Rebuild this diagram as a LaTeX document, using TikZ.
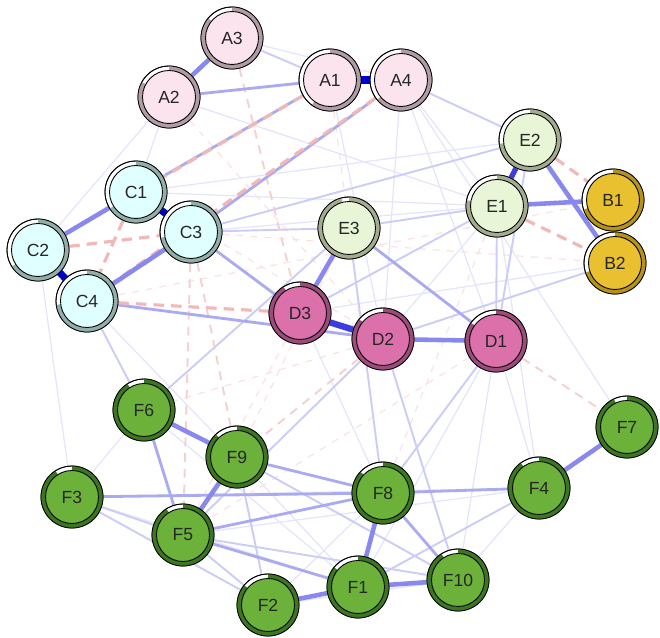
\documentclass[tikz,border=0pt]{standalone}
\usepackage{fontspec}
\setmainfont{Liberation Sans}
\usepackage{tikz}
\pgfdeclarelayer{bg}
\pgfsetlayers{bg,main}

\definecolor{afill}{RGB}{252,228,238}
\definecolor{aring}{RGB}{176,156,164}
\definecolor{cfill}{RGB}{224,255,255}
\definecolor{cring}{RGB}{146,174,168}
\definecolor{efill}{RGB}{232,245,214}
\definecolor{ering}{RGB}{164,172,144}
\definecolor{bfill}{RGB}{232,192,48}
\definecolor{bring}{RGB}{180,146,28}
\definecolor{dfill}{RGB}{220,112,170}
\definecolor{dring}{RGB}{156,76,122}
\definecolor{ffill}{RGB}{108,178,58}
\definecolor{fring}{RGB}{60,118,32}
\definecolor{posdark}{RGB}{0,0,205}
\definecolor{posdeep}{RGB}{60,60,225}
\definecolor{posstrong}{RGB}{136,136,238}
\definecolor{posmid}{RGB}{170,170,242}
\definecolor{posweak}{RGB}{204,204,248}
\definecolor{posfaint}{RGB}{228,228,252}
\definecolor{negmid}{RGB}{242,184,184}
\definecolor{negweak}{RGB}{246,208,208}
\definecolor{negfaint}{RGB}{251,226,226}

\tikzstyle{pnode} = [circle, draw, line width=0.5pt, fill=white, minimum size=1.24cm, inner sep=0pt]
\tikzstyle{pdisc} = [circle, draw, line width=0.5pt, minimum size=1.06cm, inner sep=0pt, text=black!85, font=\fontsize{10}{11}\selectfont]
\tikzstyle{pd} = [draw=posdark, line width=4pt]
\tikzstyle{pk} = [draw=posdeep, line width=3.6pt]
\tikzstyle{ps} = [draw=posstrong, line width=2.6pt]
\tikzstyle{pm} = [draw=posmid, line width=1.6pt]
\tikzstyle{pw} = [draw=posweak, line width=1.1pt]
\tikzstyle{pf} = [draw=posfaint, line width=0.7pt]
\tikzstyle{nm} = [draw=negmid, line width=1.8pt, dash pattern=on 6pt off 4pt]
\tikzstyle{nw} = [draw=negweak, line width=1.1pt, dash pattern=on 5pt off 4pt]
\tikzstyle{nf} = [draw=negfaint, line width=0.7pt, dash pattern=on 4pt off 4pt]

% name, position, label, fill, ring, fraction
\newcommand{\pienode}[6]{%
	\node[pnode] (#1) at (#2) {};
	\draw[#5, line width=0.09cm] ([shift={(90:0.575cm)}]#1.center) arc[start angle=90, delta angle=-360*#6, radius=0.575cm];
	\draw (#1.center) circle[radius=0.62cm];
	\node[pdisc, fill=#4] (#1in) at (#1.center) {#3};
}

\begin{document}
\begin{tikzpicture}[x=0.02cm, y=-0.02cm]
	\useasboundingbox (0,0) rectangle (660,638);

	% ------------------- Nodes ------------------- %
	\pienode{A3}{232,38}{A3}{afill}{aring}{0.86}
	\pienode{A2}{169,97}{A2}{afill}{aring}{0.83}
	\pienode{A1}{330,80}{A1}{afill}{aring}{0.60}
	\pienode{A4}{401,80}{A4}{afill}{aring}{0.64}

	\pienode{C1}{136,192}{C1}{cfill}{cring}{0.66}
	\pienode{C3}{191,232}{C3}{cfill}{cring}{0.72}
	\pienode{C2}{38,250}{C2}{cfill}{cring}{0.66}
	\pienode{C4}{87,301}{C4}{cfill}{cring}{0.73}

	\pienode{E2}{530,140}{E2}{efill}{ering}{0.73}
	\pienode{E1}{497,206}{E1}{efill}{ering}{0.78}
	\pienode{E3}{349,228}{E3}{efill}{ering}{0.96}
	\pienode{B1}{613,200}{B1}{bfill}{bring}{0.70}
	\pienode{B2}{615,263}{B2}{bfill}{bring}{0.70}

	\pienode{D3}{300,313}{D3}{dfill}{dring}{0.91}
	\pienode{D2}{383,339}{D2}{dfill}{dring}{0.86}
	\pienode{D1}{496,341}{D1}{dfill}{dring}{0.85}

	\pienode{F6}{144,410}{F6}{ffill}{fring}{0.91}
	\pienode{F9}{237,457}{F9}{ffill}{fring}{0.88}
	\pienode{F3}{72,497}{F3}{ffill}{fring}{0.91}
	\pienode{F5}{183,535}{F5}{ffill}{fring}{0.91}
	\pienode{F8}{383,493}{F8}{ffill}{fring}{0.87}
	\pienode{F4}{539,488}{F4}{ffill}{fring}{0.90}
	\pienode{F7}{627,427}{F7}{ffill}{fring}{0.93}
	\pienode{F1}{358,587}{F1}{ffill}{fring}{0.86}
	\pienode{F10}{458,580}{F10}{ffill}{fring}{0.91}
	\pienode{F2}{268,605}{F2}{ffill}{fring}{0.86}

	\begin{pgfonlayer}{bg}
	% ------------------- Faint edges ------------------- %
	\foreach \a/\b in {A3/A4, A2/C1, A2/C2, A2/E1, A4/E1, A4/D1, A4/D2, A4/F7, A1/D2,
		C3/E1, C1/E2, C1/E1, C4/F9, C2/F3, E1/D2, E1/F4, B2/D3, D3/F8, D1/F4, D1/F1,
		D1/F10, F3/F6, F4/F10, F4/F5, F6/F1, F9/F1, F3/F1, F3/F4, F2/F8, F2/F10}
		\draw[pf] (\a) -- (\b);
	\foreach \a/\b in {A1/E3, C3/B2, A2/D2, D2/F6, E3/F9, E1/F8, D1/F5, C4/B1, D3/F5, C1/D2}
		\draw[nf] (\a) -- (\b);

	% ------------------- Weak edges ------------------- %
	\foreach \a/\b in {A3/A1, A4/E2, C3/E3, C4/F6, E1/D1, E2/D1, E3/E1, E2/C3, E1/D3,
		B2/D2, E3/F8, D2/F10, D1/F8, D2/F5, E3/F6, F9/F2, F3/F5, F3/F2, F9/F10, F4/F1,
		F5/F2, F5/F10}
		\draw[pw] (\a) -- (\b);
	\foreach \a/\b in {A3/D3, C3/F5, C3/F9, D1/F7, D2/F9}
		\draw[nw] (\a) -- (\b);

	% ------------------- Medium edges ------------------- %
	\foreach \a/\b in {A2/A1, A1/C1, A4/C3, C3/D3, C4/D2, E3/D1, F6/F5, F8/F10, F9/F8,
		F3/F8, F8/F4, F5/F8, F5/F1}
		\draw[pm] (\a) -- (\b);
	\foreach \a/\b in {A1/C2, A4/C4, C2/C3, C1/C4, C4/D3, E2/B1, E1/B2}
		\draw[nm] (\a) -- (\b);

	% ------------------- Strong edges ------------------- %
	\foreach \a/\b in {A3/A2, C1/C2, C3/C4, E1/B1, E2/B2, E3/D3, D2/D1, F6/F9, F9/F5,
		F8/F1, F1/F10, F2/F1, F7/F4}
		\draw[ps] (\a) -- (\b);
	\draw[pk] (D3) -- (D2);
	\draw[pk, line width=3pt] (E2) -- (E1);
	\foreach \a/\b in {A1/A4, C1/C3, C2/C4}
		\draw[pd] (\a) -- (\b);
	\end{pgfonlayer}
\end{tikzpicture}
\end{document}
